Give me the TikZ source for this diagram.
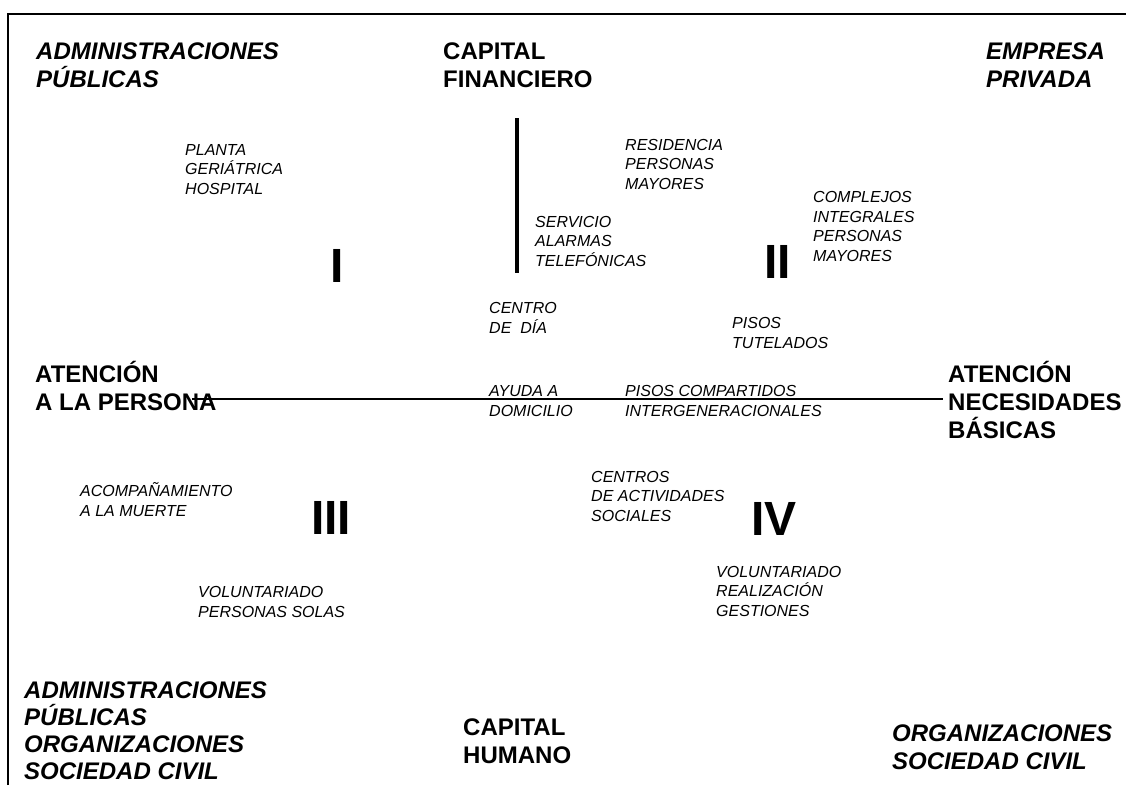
\documentclass[tikz,border=0pt]{standalone}
\usepackage{fontspec}
\setmainfont{Liberation Sans}
\usetikzlibrary{positioning}
\tikzset{
  cornernode/.style={
    anchor=base west, inner sep=0pt, align=left,
    font=\fontsize{24}{27.5}\selectfont\bfseries\itshape
  },
  axisnode/.style={
    anchor=base west, inner sep=0pt, align=left,
    font=\fontsize{24}{28}\selectfont\bfseries
  },
  servnode/.style={
    anchor=base west, inner sep=0pt, align=left,
    font=\fontsize{16}{19.5}\selectfont\itshape
  },
  quadnode/.style={
    anchor=base west, inner sep=0pt,
    font=\fontsize{48}{50}\selectfont\bfseries
  },
  axisline/.style={line width=#1, draw=black},
}

\begin{document}
\begin{tikzpicture}[x=1pt, y=-1pt]
    \useasboundingbox (0,0) rectangle (1126,785);
    % frame
    \draw[line width=2pt] (8,785) -- (8,14) -- (1126,14);

    % axes
    \coordinate (capfin) at (517,118);
    \coordinate (capmid) at (517,273);
    \coordinate (perleft) at (192,399);
    \coordinate (necright) at (943,399);
    \draw[axisline=4pt] (capfin) -- (capmid);
    \draw[axisline=2pt] (perleft) -- (necright);

    % corners and axis ends (y = baseline of last line)
    \node[cornernode] (adminup) at (36,87)  {ADMINISTRACIONES\\PÚBLICAS};
    \node[axisnode]   (capital) at (443,87) {CAPITAL\\FINANCIERO};
    \node[cornernode] (empresa) at (986,87) {EMPRESA\\PRIVADA};
    \node[axisnode]   (persona) at (35,410) {ATENCIÓN\\A LA PERSONA};
    \node[axisnode]   (basicas) at (948,438) {ATENCIÓN\\NECESIDADES\\BÁSICAS};
    \node[cornernode, font=\fontsize{24}{26.7}\selectfont\bfseries\itshape] (admindown) at (24,779) {ADMINISTRACIONES\\PÚBLICAS\\ORGANIZACIONES\\SOCIEDAD CIVIL};
    \node[axisnode]   (humano)  at (463,763) {CAPITAL\\HUMANO};
    \node[cornernode] (orgciv)  at (892,769) {ORGANIZACIONES\\SOCIEDAD CIVIL};

    % quadrants
    \node[quadnode] (qone)   at (330,282) {I};
    \node[quadnode] (qtwo)   at (764,278) {II};
    \node[quadnode] (qthree) at (311,534) {III};
    \node[quadnode] (qfour)  at (751,535) {IV};

    % services
    \node[servnode] (planta)   at (185,194) {PLANTA\\GERIÁTRICA\\HOSPITAL};
    \node[servnode] (resid)    at (625,189) {RESIDENCIA\\PERSONAS\\MAYORES};
    \node[servnode] (alarmas)  at (535,266) {SERVICIO\\ALARMAS\\TELEFÓNICAS};
    \node[servnode] (complejos) at (813,261) {COMPLEJOS\\INTEGRALES\\PERSONAS\\MAYORES};
    \node[servnode] (cdia)     at (489,333) {CENTRO\\DE~~DÍA};
    \node[servnode] (tutel)    at (732,348) {PISOS\\TUTELADOS};
    \node[servnode] (ayuda)    at (489,416) {AYUDA A\\DOMICILIO};
    \node[servnode] (compart)  at (625,416) {PISOS COMPARTIDOS\\INTERGENERACIONALES};
    \node[servnode] (activ)    at (591,521) {CENTROS\\DE ACTIVIDADES\\SOCIALES};
    \node[servnode] (muerte)   at (80,516)  {ACOMPAÑAMIENTO\\A LA MUERTE};
    \node[servnode] (solas)    at (198,617) {VOLUNTARIADO\\PERSONAS SOLAS};
    \node[servnode] (gestion)  at (716,616) {VOLUNTARIADO\\REALIZACIÓN\\GESTIONES};
\end{tikzpicture}
\end{document}
